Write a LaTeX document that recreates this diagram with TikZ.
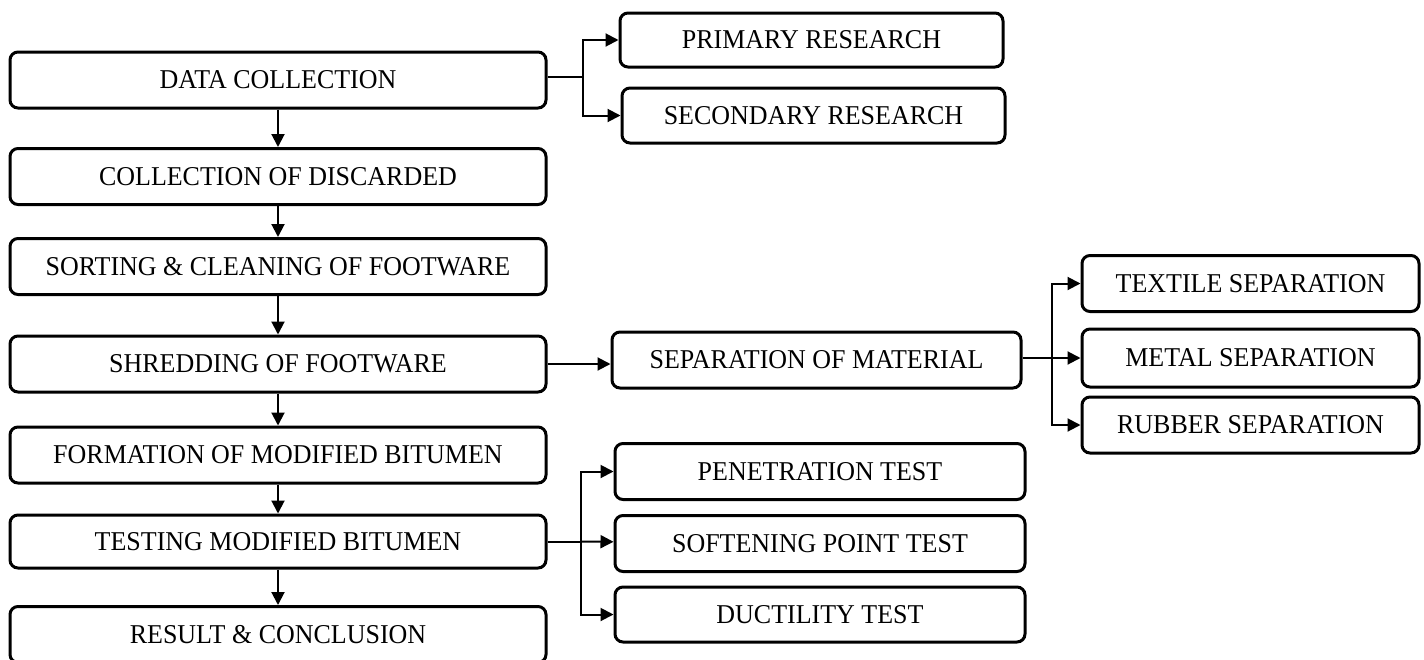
\documentclass[tikz,border=0pt]{standalone}
\usepackage{fontspec}
\setmainfont{Liberation Serif}[FakeStretch=0.955]
\usetikzlibrary{arrows.meta,positioning}

\begin{document}
\begin{tikzpicture}[x=0.5pt,y=-0.5pt,line width=1pt,>={Triangle[length=6.5pt,width=6.5pt]},
  box/.style={draw,rounded corners=4pt,line width=1.5pt,minimum height=28pt,inner sep=0pt,font=\fontsize{13.6}{15}\selectfont}]
\useasboundingbox (0,0) rectangle (1424,659);
% main column
\node[box,minimum width=268pt] (data) at (278,80) {DATA COLLECTION};
\node[box,minimum width=268pt] (coll) at (278,176.5) {COLLECTION OF DISCARDED};
\node[box,minimum width=268pt] (sort) at (278,266.5) {SORTING \& CLEANING OF FOOTWARE};
\node[box,minimum width=268pt] (shred) at (278,364) {SHREDDING OF FOOTWARE};
\node[box,minimum width=268pt] (form) at (278,455) {FORMATION OF MODIFIED BITUMEN};
\node[box,minimum width=268pt,minimum height=26.5pt] (test) at (278,541.5) {TESTING MODIFIED BITUMEN};
\node[box,minimum width=268pt] (res) at (278,634.5) {RESULT \& CONCLUSION};
% side boxes
\node[box,minimum width=191.5pt,minimum height=27pt] (prim) at (811.5,40) {PRIMARY RESEARCH};
\node[box,minimum width=191.5pt,minimum height=27.5pt] (sec) at (813.5,115.5) {SECONDARY RESEARCH};
\node[box,minimum width=204.5pt] (sep) at (816.5,360) {SEPARATION OF MATERIAL};
\node[box,minimum width=168.5pt] (text) at (1250.5,283.5) {TEXTILE SEPARATION};
\node[box,minimum width=168.5pt,minimum height=29pt] (metal) at (1250.5,358) {METAL SEPARATION};
\node[box,minimum width=168.5pt] (rub) at (1250.5,425) {RUBBER SEPARATION};
\node[box,minimum width=205pt] (pen) at (820,471.5) {PENETRATION TEST};
\node[box,minimum width=205pt] (soft) at (820,543.5) {SOFTENING POINT TEST};
\node[box,minimum width=205pt,minimum height=27.5pt] (duct) at (820,614.5) {DUCTILITY TEST};
% branch points
\coordinate (j1) at (583,77);
\coordinate (j2) at (1052,358);
\coordinate (j3) at (581,541.5);
% connectors
\draw[->] (data) -- (coll);
\draw[->] (coll) -- (sort);
\draw[->] (sort) -- (shred);
\draw[->] (shred) -- (form);
\draw[->] (form) -- (test);
\draw[->] (test) -- (res);
\draw (data.east |- j1) -- (j1);
\draw[->] (j1) |- (prim); \draw[->] (j1) |- (sec);
\draw[->] (shred.east) -- (shred.east -| sep.west);
\draw (sep.east |- j2) -- (j2);
\draw[->] (j2) |- (text); \draw[->] (j2) -- (metal); \draw[->] (j2) |- (rub);
\draw (test) -- (j3);
\draw[->] (j3) |- (pen); \draw[->] (j3) -- (soft); \draw[->] (j3) |- (duct);
\end{tikzpicture}
\end{document}
